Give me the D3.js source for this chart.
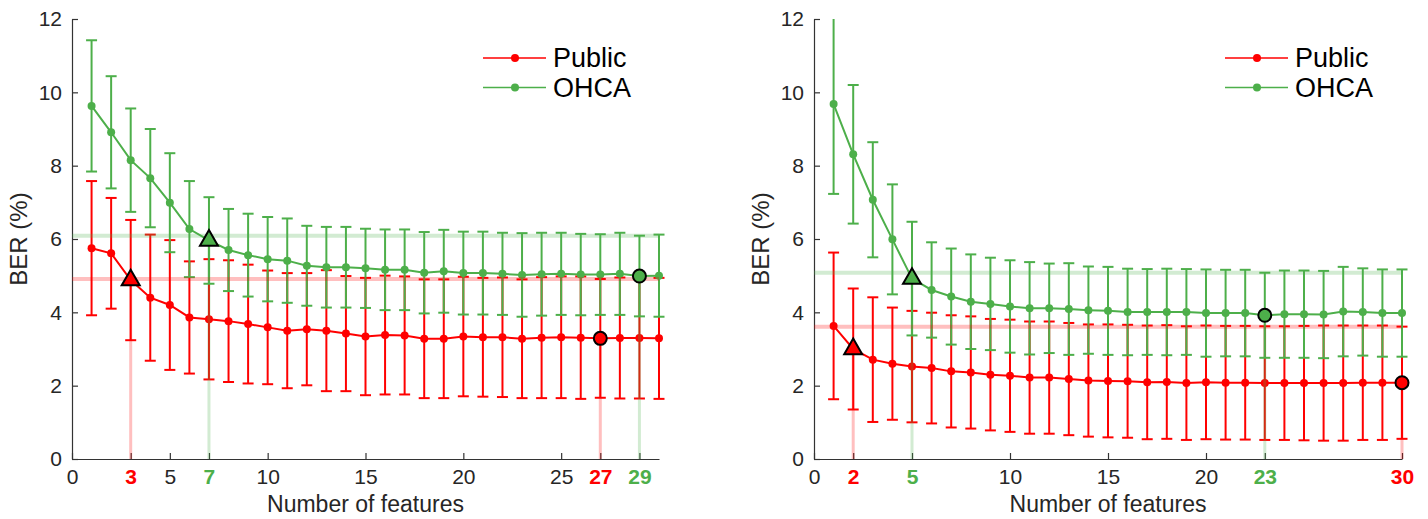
<!DOCTYPE html>
<html>
<head>
<meta charset="utf-8">
<script src="https://cdn.jsdelivr.net/npm/d3@7"></script>
<style>
  body { margin: 0; background: #fff; }
  svg { display: block; font-family: "Liberation Sans", Arial, sans-serif; }
</style>
</head>
<body>
<svg id="chart" width="1428" height="519"></svg>
<script>
// donnees (n = 1..30)
var nFeatures = d3.range(1, 31);
var seriesNames = ["Public", "OHCA"];
var seriesColors = ["#ff0000", "#4daf4a"];

// panneau gauche
var leftPublicMean = [5.75, 5.61, 4.88, 4.40, 4.20, 3.86, 3.81, 3.76, 3.68, 3.59, 3.50, 3.54, 3.50, 3.42, 3.34,
  3.38, 3.37, 3.28, 3.28, 3.34, 3.32, 3.32, 3.28, 3.31, 3.32, 3.31, 3.29, 3.30, 3.30, 3.29];
var leftPublicErr = [1.83, 1.51, 1.64, 1.72, 1.77, 1.53, 1.64, 1.66, 1.62, 1.55, 1.57, 1.53, 1.65, 1.57, 1.60,
  1.62, 1.61, 1.62, 1.62, 1.63, 1.62, 1.63, 1.62, 1.65, 1.66, 1.67, 1.62, 1.65, 1.65, 1.65];
var leftOhcaMean = [9.63, 8.91, 8.15, 7.66, 6.99, 6.27, 5.96, 5.70, 5.56, 5.45, 5.41, 5.27, 5.23, 5.23, 5.20,
  5.16, 5.16, 5.08, 5.12, 5.07, 5.07, 5.05, 5.02, 5.04, 5.05, 5.03, 5.03, 5.05, 4.99, 5.00];
var leftOhcaErr = [1.79, 1.53, 1.41, 1.34, 1.35, 1.31, 1.18, 1.12, 1.13, 1.15, 1.15, 1.09, 1.10, 1.10, 1.08,
  1.10, 1.10, 1.11, 1.13, 1.13, 1.13, 1.12, 1.14, 1.13, 1.12, 1.11, 1.10, 1.12, 1.10, 1.12];
var leftSelected = [3, 7];   // triangles (Public, OHCA)
var leftBest = [27, 29];     // cercles (Public, OHCA)
var leftTicks = [0, 3, 5, 7, 10, 15, 20, 25, 27, 29];

// panneau droit
var rightPublicMean = [3.63, 3.00, 2.71, 2.60, 2.52, 2.48, 2.39, 2.36, 2.30, 2.27, 2.22, 2.22, 2.18, 2.14, 2.13,
  2.12, 2.09, 2.10, 2.07, 2.09, 2.08, 2.08, 2.07, 2.07, 2.07, 2.07, 2.07, 2.08, 2.08, 2.08];
var rightPublicErr = [2.00, 1.65, 1.70, 1.53, 1.52, 1.51, 1.53, 1.53, 1.52, 1.53, 1.53, 1.53, 1.53, 1.53, 1.54,
  1.54, 1.55, 1.55, 1.55, 1.55, 1.55, 1.55, 1.55, 1.55, 1.56, 1.57, 1.57, 1.56, 1.56, 1.53];
var rightOhcaMean = [9.68, 8.31, 7.07, 5.99, 4.92, 4.61, 4.43, 4.29, 4.23, 4.16, 4.11, 4.11, 4.09, 4.06, 4.04,
  4.01, 4.01, 4.01, 4.01, 3.98, 3.98, 3.98, 3.92, 3.95, 3.95, 3.94, 4.02, 4.01, 3.98, 3.98];
var rightOhcaErr = [2.45, 1.89, 1.57, 1.50, 1.55, 1.30, 1.31, 1.29, 1.26, 1.26, 1.26, 1.22, 1.25, 1.19, 1.20,
  1.18, 1.17, 1.18, 1.17, 1.19, 1.18, 1.18, 1.16, 1.19, 1.19, 1.19, 1.22, 1.19, 1.19, 1.19];
var rightSelected = [2, 5];
var rightBest = [30, 23];
var rightTicks = [0, 2, 5, 10, 15, 20, 23, 30];

var yTicks = [0, 2, 4, 6, 8, 10, 12];

var svg = d3.select("#chart");
var top_ = 19, bottom_ = 459;
var axisColor = "#333";
var textColor = "#262626";

function drawPanel(left, right, means, errs, selected, best, ticks){
  var x = d3.scaleLinear().domain([0, 30]).range([left, right]);
  var y = d3.scaleLinear().domain([0, 12]).range([bottom_, top_]);
  var g = svg.append("g");

  // axes
  var xAxis = d3.axisBottom(x).tickValues(ticks).tickSizeInner(-6).tickSizeOuter(0).tickPadding(10)
    .tickFormat(d3.format("d"));
  var gx = g.append("g").attr("transform", "translate(0," + bottom_ + ")").call(xAxis);
  var yAxis = d3.axisLeft(y).tickValues(yTicks).tickSizeInner(-6).tickSizeOuter(0).tickPadding(10);
  var gy = g.append("g").attr("transform", "translate(" + left + ",0)").call(yAxis);
  [gx, gy].forEach(function(a){
    a.select(".domain").attr("stroke", axisColor).attr("stroke-width", 1.2);
    a.selectAll(".tick line").attr("stroke", axisColor).attr("stroke-width", 1.2);
    a.selectAll(".tick text").attr("fill", textColor).style("font-size", "21px");
  });
  gx.selectAll(".tick text").each(function(d){
    var s = selected.indexOf(d) >= 0 ? selected.indexOf(d) : best.indexOf(d);
    if(s >= 0) d3.select(this).attr("fill", seriesColors[s]).style("font-weight", "bold");
  });

  g.append("text").attr("x", (left + right) / 2).attr("y", 512).attr("text-anchor", "middle")
    .attr("fill", textColor).style("font-size", "23px").text("Number of features");
  g.append("text").attr("transform", "translate(" + (left - 45) + "," + ((top_ + bottom_) / 2) + ") rotate(-90)")
    .attr("text-anchor", "middle").attr("fill", textColor).style("font-size", "24px").text("BER (%)");

  // series + barres d'erreur
  means.forEach(function(m, s){
    var e = errs[s];
    var col = seriesColors[s];
    var pts = nFeatures.map(function(n, i){ return {n: n, m: m[i], lo: m[i] - e[i], hi: Math.min(12, m[i] + e[i])}; });
    var sg = g.append("g");
    sg.selectAll("line.bar").data(pts).enter().append("line").attr("class", "bar")
      .attr("x1", function(d){ return x(d.n); }).attr("x2", function(d){ return x(d.n); })
      .attr("y1", function(d){ return y(d.lo); }).attr("y2", function(d){ return y(d.hi); })
      .attr("stroke", col).attr("stroke-width", 2);
    ["lo", "hi"].forEach(function(k){
      sg.selectAll("line.cap" + k).data(pts.filter(function(d){ return k == "lo" || d.m + errs[s][d.n - 1] <= 12; }))
        .enter().append("line").attr("class", "cap" + k)
        .attr("x1", function(d){ return x(d.n) - 5.5; }).attr("x2", function(d){ return x(d.n) + 5.5; })
        .attr("y1", function(d){ return y(d[k]); }).attr("y2", function(d){ return y(d[k]); })
        .attr("stroke", col).attr("stroke-width", 2);
    });
    sg.append("path").datum(pts)
      .attr("d", d3.line().x(function(d){ return x(d.n); }).y(function(d){ return y(d.m); }))
      .attr("fill", "none").attr("stroke", col).attr("stroke-width", 2);
    sg.selectAll("circle").data(pts).enter().append("circle")
      .attr("cx", function(d){ return x(d.n); }).attr("cy", function(d){ return y(d.m); })
      .attr("r", 4).attr("fill", col);
  });

  // lignes de seuil (meilleur + erreur) et reperes
  means.forEach(function(m, s){
    var col = seriesColors[s];
    var b = best[s] - 1, k = selected[s] - 1;
    var thr = m[b] + errs[s][b];
    g.append("line").attr("x1", x(0)).attr("x2", x(30)).attr("y1", y(thr)).attr("y2", y(thr))
      .attr("stroke", col).attr("stroke-opacity", 0.25).attr("stroke-width", 4);
    g.append("line").attr("x1", x(best[s])).attr("x2", x(best[s])).attr("y1", y(0)).attr("y2", y(m[b]))
      .attr("stroke", col).attr("stroke-opacity", 0.25).attr("stroke-width", 3);
    g.append("line").attr("x1", x(selected[s])).attr("x2", x(selected[s])).attr("y1", y(0)).attr("y2", y(m[k]))
      .attr("stroke", col).attr("stroke-opacity", 0.25).attr("stroke-width", 3);
  });
  means.forEach(function(m, s){
    var col = seriesColors[s];
    var b = best[s] - 1, k = selected[s] - 1;
    g.append("circle").attr("cx", x(best[s])).attr("cy", y(m[b])).attr("r", 6.5)
      .attr("fill", col).attr("stroke", "#000").attr("stroke-width", 2);
    g.append("path").attr("d", d3.symbol().type(d3.symbolTriangle).size(140)())
      .attr("transform", "translate(" + x(selected[s]) + "," + y(m[k]) + ")")
      .attr("fill", col).attr("stroke", "#000").attr("stroke-width", 2);
  });

  // legende
  seriesNames.forEach(function(name, s){
    var ly = 58 + s * 29.5;
    g.append("line").attr("x1", left + 411).attr("x2", left + 474).attr("y1", ly).attr("y2", ly)
      .attr("stroke", seriesColors[s]).attr("stroke-width", 1.5);
    g.append("circle").attr("cx", left + 443).attr("cy", ly).attr("r", 4).attr("fill", seriesColors[s]);
    g.append("text").attr("x", left + 481).attr("y", ly + 9).attr("fill", "#000")
      .style("font-size", "27px").text(name);
  });
}

drawPanel(72, 659, [leftPublicMean, leftOhcaMean], [leftPublicErr, leftOhcaErr], leftSelected, leftBest, leftTicks);
drawPanel(814, 1402, [rightPublicMean, rightOhcaMean], [rightPublicErr, rightOhcaErr], rightSelected, rightBest, rightTicks);
</script>
</body>
</html>
